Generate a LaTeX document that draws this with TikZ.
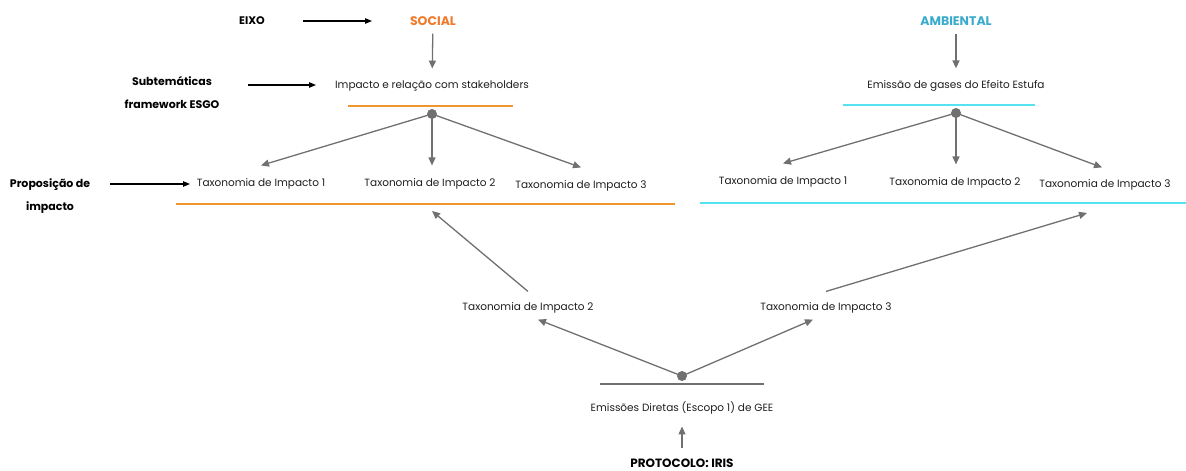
\documentclass[tikz,border=0pt]{standalone}
\usepackage{fontspec}
\setmainfont{Poppins}
\usepackage{tikz}
\usetikzlibrary{arrows.meta,positioning}
\definecolor{socialC}{HTML}{F07A2A}
\definecolor{socialL}{HTML}{F0962E}
\definecolor{ambC}{HTML}{3AABCB}
\definecolor{ambL}{HTML}{55E3F2}
\definecolor{linkC}{HTML}{707070}
\definecolor{txtC}{HTML}{1E1E1E}
\tikzset{
  txt/.style={ inner sep=0pt, text=txtC, font=\fontsize{10.5}{12}\selectfont }
}
\tikzset{
  lbl/.style={ inner sep=0pt, align=center, font=\fontsize{11}{23}\selectfont\bfseries }
}
\tikzset{
  eixo/.style={ inner sep=0pt, font=\fontsize{12.5}{14}\selectfont\bfseries }
}
\tikzset{
  hub/.style={ circle, fill=linkC, inner sep=0pt, minimum size=10pt }
}
\tikzset{
  link/.style={ draw=linkC, line width=1.3pt, -{Triangle[length=8pt,width=7pt]} }
}
\tikzset{
  pointer/.style={ draw=black, line width=1.1pt, -{Triangle[length=7pt,width=5.5pt]} }
}

\begin{document}
\begin{tikzpicture}[x=1pt, y=-1pt]
      \useasboundingbox (0,0) rectangle (1186,471);

      % labels on the left
      \node[lbl] (eixo) at (252, 21) {EIXO};
      \node[lbl] (subt) at (172, 92) {Subtemáticas\\framework ESGO};
      \node[lbl] (prop) at (50, 196) {Proposição de\\impacto};

      % social
      \node[eixo, text=socialC] (social) at (433, 21) {SOCIAL};
      \node[txt] (stake) at (432, 86) {Impacto e relação com stakeholders};
      \node[hub] (shub) at (432, 114) {};
      \node[txt] (st1) at (261, 184) {Taxonomia de Impacto 1};
      \node[txt] (st2) at (430, 184) {Taxonomia de Impacto 2};
      \node[txt] (st3) at (581, 186) {Taxonomia de Impacto 3};
      \draw[socialL, line width=1.3pt] (348, 106) -- (513, 106);
      \draw[socialL, line width=1.3pt] (176, 204) -- (675, 204);

      % ambiental
      \node[eixo, text=ambC] (amb) at (956, 21) {AMBIENTAL};
      \node[txt] (gee) at (956, 86) {Emissão de gases do Efeito Estufa};
      \node[hub] (ahub) at (956, 113) {};
      \node[txt] (at1) at (783, 182) {Taxonomia de Impacto 1};
      \node[txt] (at2) at (955, 183) {Taxonomia de Impacto 2};
      \node[txt] (at3) at (1105, 185) {Taxonomia de Impacto 3};
      \draw[ambL, line width=1.3pt] (843, 105) -- (1035, 105);
      \draw[ambL, line width=1.3pt] (700, 203) -- (1186, 203);

      % protocolo
      \node[txt] (bt2) at (528, 308) {Taxonomia de Impacto 2};
      \node[txt] (bt3) at (826, 308) {Taxonomia de Impacto 3};
      \node[hub] (phub) at (682, 376) {};
      \node[txt] (dir) at (682, 408) {Emissões Diretas (Escopo 1) de GEE};
      \node[eixo, font=\fontsize{12}{14}\selectfont\bfseries] (iris) at (682, 463) {PROTOCOLO: IRIS};
      \draw[linkC, line width=1.3pt] (600, 384) -- (764, 384);
      \coordinate (sin) at (432, 211);
      \coordinate (ain) at (1087, 213);

      \draw[pointer] (303, 21) -- (372, 21);
      \draw[pointer] (248, 85) -- (316, 85);
      \draw[pointer] (110, 184) -- (190, 184);

      \draw[link, shorten <=8pt, shorten >=12pt] (social) -- (stake);
      \draw[link, shorten <=8pt, shorten >=12pt] (amb) -- (gee);
      \draw[link] (shub.center) -- ([yshift=13pt]st1.north);
      \draw[link] (shub.center) -- ([xshift=2pt, yshift=13pt]st2.north);
      \draw[link] (shub.center) -- ([yshift=13pt]st3.north);
      \draw[link] (ahub.center) -- ([yshift=13pt]at1.north);
      \draw[link] (ahub.center) -- ([xshift=1pt, yshift=13pt]at2.north);
      \draw[link] (ahub.center) -- ([xshift=-3pt, yshift=12pt]at3.north);
      \draw[link] (phub.center) -- ([xshift=10pt, yshift=-6pt]bt2.south);
      \draw[link] (phub.center) -- ([xshift=-13pt, yshift=-6pt]bt3.south);
      \draw[link, shorten <=10pt, shorten >=12pt] (iris) -- (dir);
      \draw[link] ([yshift=11pt]bt2.north) -- (sin);
      \draw[link] ([yshift=11pt]bt3.north) -- (ain);
    \end{tikzpicture}
\end{document}
